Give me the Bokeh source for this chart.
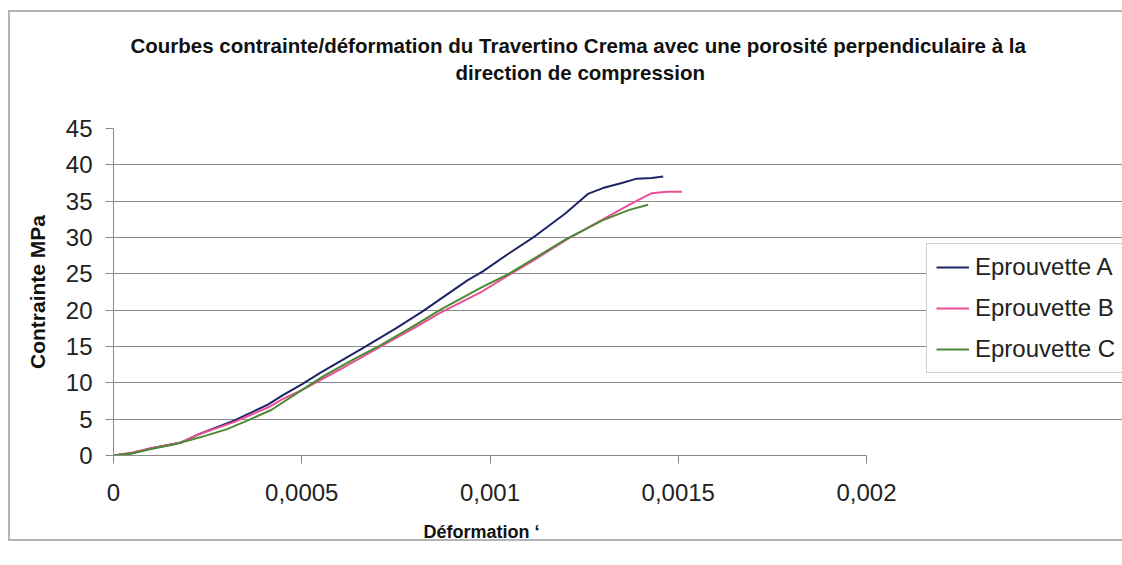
from bokeh.plotting import figure
from bokeh.models import (Legend, LegendItem, FixedTicker, CustomJSTickFormatter,
                          Title, Range1d)
from bokeh.embed import file_html
from bokeh.resources import INLINE

# ---- data ----
strain_a = [0, 0.00005, 0.0001, 0.00018, 0.00023, 0.00032, 0.00041, 0.00045, 0.0005,
            0.00055, 0.00066, 0.00075, 0.00082, 0.00094, 0.00098, 0.00105, 0.00112,
            0.0012, 0.00126, 0.0013, 0.00135, 0.00139, 0.00143, 0.00146]
stress_a = [0, 0.3, 1.0, 1.8, 3.0, 4.8, 7.0, 8.3, 9.8, 11.4, 14.7, 17.5, 19.8, 24.1,
            25.3, 27.8, 30.2, 33.3, 36.0, 36.8, 37.5, 38.1, 38.2, 38.4]

strain_b = [0, 0.00005, 0.0001, 0.00018, 0.00023, 0.00032, 0.00041, 0.00045, 0.0005,
            0.0006, 0.00071, 0.0008, 0.00087, 0.00098, 0.00103, 0.00112, 0.00121,
            0.0013, 0.00138, 0.00143, 0.00147, 0.00151]
stress_b = [0, 0.4, 1.0, 1.8, 3.0, 4.6, 6.6, 7.8, 9.0, 11.8, 15.0, 17.6, 19.7, 22.6,
            24.2, 27.0, 29.9, 32.5, 34.8, 36.1, 36.3, 36.3]

strain_c = [0, 0.00005, 0.0001, 0.00016, 0.00023, 0.0003, 0.00036, 0.00042, 0.0005,
            0.00056, 0.00064, 0.00071, 0.0008, 0.00087, 0.00098, 0.00105, 0.0012,
            0.0013, 0.00137, 0.00142]
stress_c = [0, 0.3, 0.9, 1.5, 2.5, 3.6, 4.9, 6.3, 9.0, 11.0, 13.3, 15.2, 17.9, 20.1,
            23.2, 25.0, 29.7, 32.4, 33.8, 34.5]

series_names = ["Eprouvette A", "Eprouvette B", "Eprouvette C"]
x_ticks = [0, 0.0005, 0.001, 0.0015, 0.002]
y_ticks = [0, 5, 10, 15, 20, 25, 30, 35, 40, 45]

title_line1 = "Courbes contrainte/déformation du Travertino Crema avec une porosité perpendiculaire à la"
title_line2 = "direction de compression"
x_label = "Déformation \u2018"
y_label = "Contrainte MPa"

# ---- layout ----
W, H = 1122, 563
LEFT, TOP, BOTTOM = 113, 128, 108
AXIS_PX = 753                     # pixels between x = 0 and x = 0.002
frame_w = W - LEFT
x_end = x_ticks[-1] * frame_w / AXIS_PX   # frame extends right so the legend fits inside

FONT = "'Liberation Sans', Arial, sans-serif"
colors = ["#1c2566", "#ee4d98", "#4a8a32"]
grey = "#8a8a8a"

p = figure(width=W, height=H, output_backend="svg", toolbar_location=None,
           x_range=Range1d(0, x_end), y_range=Range1d(0, 45),
           min_border_left=LEFT, min_border_right=0, min_border_top=TOP,
           min_border_bottom=BOTTOM)
p.background_fill_color = "white"
p.border_fill_color = None
# light grey chart-area border (left, top, bottom) like the reference
p.styles = {
    "background-color": "white",
    "box-shadow": ("inset 8px 0 0 0 white, inset 0 10px 0 0 white, inset 0 -22px 0 0 white, "
                   "inset 10px 0 0 0 #b4b4b4, inset 0 12px 0 0 #b4b4b4, inset 0 -24px 0 0 #b4b4b4"),
}
p.outline_line_color = None

renderers = []
for xs, ys, c in zip([strain_a, strain_b, strain_c], [stress_a, stress_b, stress_c], colors):
    renderers.append(p.line(xs, ys, line_color=c, line_width=2))

# axes
p.xaxis.ticker = FixedTicker(ticks=x_ticks)
p.xaxis.formatter = CustomJSTickFormatter(code="return tick.toString().replace('.', ',');")
p.yaxis.ticker = FixedTicker(ticks=y_ticks)
p.xaxis.bounds = (x_ticks[0], x_ticks[-1])
p.xaxis.minor_tick_line_color = None
p.yaxis.minor_tick_line_color = None
for ax in (p.xaxis, p.yaxis):
    ax.axis_line_color = grey
    ax.axis_line_width = 1
    ax.major_tick_line_color = grey
    ax.major_tick_in = 0
    ax.major_label_text_font = FONT
    ax.major_label_text_font_size = "24px"
    ax.major_label_text_color = "#222222"
p.xaxis.major_tick_out = 8
p.yaxis.major_tick_out = 8
p.xaxis.major_label_standoff = 20
p.yaxis.major_label_standoff = 13

p.xgrid.grid_line_color = None
p.ygrid.grid_line_color = grey
p.ygrid.grid_line_width = 1
p.ygrid.bounds = (x_ticks[0], x_ticks[-1])

# title: spacer nearest the frame, then line 2, then line 1
p.add_layout(Title(text=" ", text_font_size="1px", standoff=40, vertical_align="middle"), "above")
p.add_layout(Title(text=title_line2, align="left", offset=342, standoff=2, vertical_align="middle",
                   text_font=FONT, text_font_style="bold", text_font_size="20.5px",
                   text_color="#111111"), "above")
p.add_layout(Title(text=title_line1, align="left", offset=17, standoff=2, vertical_align="middle",
                   text_font=FONT, text_font_style="bold", text_font_size="20.5px",
                   text_color="#111111"), "above")

# axis titles
p.add_layout(Title(text=x_label, align="left", offset=310, standoff=35, vertical_align="middle",
                   text_font=FONT, text_font_style="bold", text_font_size="18px",
                   text_color="#111111"), "below")
p.add_layout(Title(text=y_label, align="center", standoff=26, vertical_align="middle",
                   text_font=FONT, text_font_style="bold", text_font_size="21px",
                   text_color="#111111"), "left")

legend = Legend(items=[LegendItem(label=n, renderers=[r]) for n, r in zip(series_names, renderers)],
                location=(813, 82), orientation="vertical")
legend.label_text_font = FONT
legend.label_text_font_size = "24px"
legend.label_text_color = "#222222"
legend.border_line_color = "#a0a0a0"
legend.border_line_width = 1
legend.background_fill_color = "white"
legend.glyph_width = 33
legend.glyph_height = 20
legend.label_standoff = 6
legend.spacing = 13
legend.padding = 9
legend.margin = 0
p.add_layout(legend, "center")

open("out.html", "w").write(file_html(p, INLINE))
